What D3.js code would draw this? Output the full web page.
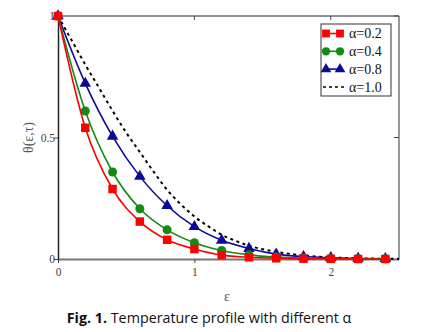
<!DOCTYPE html>
<html>
<head>
<meta charset="utf-8">
<script src="https://cdn.jsdelivr.net/npm/d3@7"></script>
<style>
  body { margin: 0; background: #fff; }
  svg { display: block; }
</style>
</head>
<body>
<div id="chart"></div>
<script>
// values
const epsMarks = [0, 0.2, 0.4, 0.6, 0.8, 1.0, 1.2, 1.4, 1.6, 1.8, 2.0, 2.2, 2.4];
const theta02 = [1, 0.54, 0.288, 0.154, 0.079, 0.041, 0.016, 0.007, 0.003, 0.0015, 0.0007, 0.0003, 0.0001];
const theta04 = [1, 0.609, 0.358, 0.207, 0.12, 0.067, 0.035, 0.017, 0.008, 0.004, 0.002, 0.001, 0.0005];
const theta08 = [1, 0.723, 0.505, 0.34, 0.219, 0.133, 0.077, 0.043, 0.02, 0.01, 0.005, 0.002, 0.001];
const epsDash = [0, 0.1, 0.2, 0.3, 0.4, 0.5, 0.6, 0.7, 0.8, 0.9, 1.0, 1.1, 1.2, 1.3, 1.4, 1.5, 1.6, 1.7, 1.8, 1.9, 2.0, 2.2, 2.4, 2.5];
const theta10 = [1, 0.90, 0.80, 0.705, 0.61, 0.52, 0.44, 0.36, 0.285, 0.225, 0.175, 0.135, 0.10, 0.075, 0.055, 0.04, 0.03, 0.021, 0.015, 0.01, 0.007, 0.003, 0.001, 0.0005];
const legendLabels = ["α=0.2", "α=0.4", "α=0.8", "α=1.0"];
const xTicks = [0, 1, 2];
const yTicks = [0, 0.5, 1];

const margin = { top: 16, right: 27, bottom: 73, left: 58 },
    width = 426 - margin.left - margin.right,
    height = 332 - margin.top - margin.bottom;

const svg = d3.select("#chart")
    .append("svg")
    .attr("width", 426)
    .attr("height", 332);

const g = svg.append("g")
    .attr("transform", `translate(${margin.left},${margin.top})`);

const x = d3.scaleLinear().domain([0, 2.5]).range([0, width]);
const y = d3.scaleLinear().domain([0, 1]).range([height, 0]);

const serif = "'Liberation Serif', 'DejaVu Serif', serif";

// frame
g.append("line").attr("x1", 0).attr("x2", width).attr("y1", 0).attr("y2", 0)
    .attr("stroke", "#222").attr("stroke-width", 1.2);
g.append("line").attr("x1", width).attr("x2", width).attr("y1", 0).attr("y2", height)
    .attr("stroke", "#555").attr("stroke-width", 1.2);

// axes
const xAxis = g.append("g")
    .attr("transform", `translate(0,${height})`)
    .call(d3.axisBottom(x).tickValues(xTicks).tickFormat(d3.format("d")).tickSize(4).tickSizeOuter(0));
const yAxis = g.append("g")
    .call(d3.axisLeft(y).tickValues(yTicks).tickFormat(d => d === 0.5 ? "0.5" : d3.format("d")(d)).tickSize(4).tickSizeOuter(0));

xAxis.select(".domain").attr("stroke", "#777").attr("stroke-width", 2);
yAxis.select(".domain").attr("stroke", "#222").attr("stroke-width", 1.5);
xAxis.selectAll(".tick line").attr("stroke", "#444");
yAxis.selectAll(".tick line").attr("stroke", "#444");
xAxis.selectAll("text").attr("font-family", serif).attr("font-size", 11.5).attr("fill", "#444").attr("dy", "0.9em");
yAxis.selectAll("text").attr("font-family", serif).attr("font-size", 11.5).attr("fill", "#444").attr("x", -3);

// inner ticks on top and right
g.selectAll(".top-tick")
    .data(xTicks.filter(d => d > 0))
    .enter().append("line")
    .attr("x1", d => x(d)).attr("x2", d => x(d))
    .attr("y1", 0).attr("y2", 4)
    .attr("stroke", "#444");
g.selectAll(".right-tick")
    .data(yTicks.filter(d => d > 0))
    .enter().append("line")
    .attr("x1", width - 5).attr("x2", width)
    .attr("y1", d => y(d)).attr("y2", d => y(d))
    .attr("stroke", "#444");

const line = d3.line()
    .x(d => x(d[0]))
    .y(d => y(d[1]))
    .curve(d3.curveMonotoneX);

const series = [
    { vals: theta02, color: "#ff0000", shape: d3.symbolSquare, size: 72 },
    { vals: theta04, color: "#138a13", shape: d3.symbolCircle, size: 64 },
    { vals: theta08, color: "#0a0a9a", shape: d3.symbolTriangle, size: 58 }
];

// dashed alpha = 1.0
g.append("path")
    .datum(epsDash.map((e, i) => [e, theta10[i]]))
    .attr("fill", "none")
    .attr("stroke", "#000")
    .attr("stroke-width", 2)
    .attr("stroke-dasharray", "3,3.5")
    .attr("d", line);

series.slice().reverse().forEach(s => {
    const pts = epsMarks.map((e, i) => [e, s.vals[i]]);
    g.append("path")
        .datum(pts)
        .attr("fill", "none")
        .attr("stroke", s.color)
        .attr("stroke-width", 1.6)
        .attr("d", line);
    g.selectAll(null)
        .data(pts)
        .enter().append("path")
        .attr("transform", d => `translate(${x(d[0])},${y(d[1])})`)
        .attr("d", d3.symbol().type(s.shape).size(s.size))
        .attr("fill", s.color);
});

// legend
const legend = svg.append("g").attr("transform", "translate(321,24)");
legend.append("rect")
    .attr("width", 70).attr("height", 72)
    .attr("fill", "#fff").attr("stroke", "#333").attr("stroke-width", 1);

legendLabels.forEach((lab, i) => {
    const ly = 9.5 + i * 17.8;
    const row = legend.append("g").attr("transform", `translate(0,${ly})`);
    if (i < 3) {
        const s = series[i];
        row.append("line").attr("x1", 2).attr("x2", 22).attr("y1", 0).attr("y2", 0)
            .attr("stroke", s.color).attr("stroke-width", 1.6);
        [5, 19].forEach(px => {
            row.append("path")
                .attr("transform", `translate(${px},0)`)
                .attr("d", d3.symbol().type(s.shape).size(s.size * 0.85))
                .attr("fill", s.color);
        });
    } else {
        row.append("line").attr("x1", 2).attr("x2", 23).attr("y1", 0).attr("y2", 0)
            .attr("stroke", "#000").attr("stroke-width", 1.5).attr("stroke-dasharray", "3,3");
    }
    row.append("text")
        .attr("x", 28).attr("y", 0).attr("dy", "0.35em")
        .attr("font-family", serif).attr("font-size", 14)
        .attr("fill", "#111")
        .text(lab);
});

// axis labels
svg.append("text")
    .attr("transform", `translate(28,${margin.top + height / 2}) rotate(-90)`)
    .attr("text-anchor", "middle")
    .attr("dy", "0.35em")
    .attr("font-family", serif).attr("font-size", 14).attr("fill", "#555")
    .text("θ(ε,τ)");

svg.append("text")
    .attr("x", 227).attr("y", 301)
    .attr("text-anchor", "middle")
    .attr("font-family", serif).attr("font-size", 14).attr("fill", "#555")
    .text("ε");

// caption
const cap = svg.append("text")
    .attr("x", 209).attr("y", 323)
    .attr("text-anchor", "middle")
    .attr("font-family", "'Open Sans', 'Noto Sans', sans-serif")
    .attr("font-size", 14.3)
    .attr("fill", "#111");
cap.append("tspan").attr("font-weight", "bold").text("Fig. 1.");
cap.append("tspan").text(" Temperature profile with different α");
</script>
</body>
</html>
